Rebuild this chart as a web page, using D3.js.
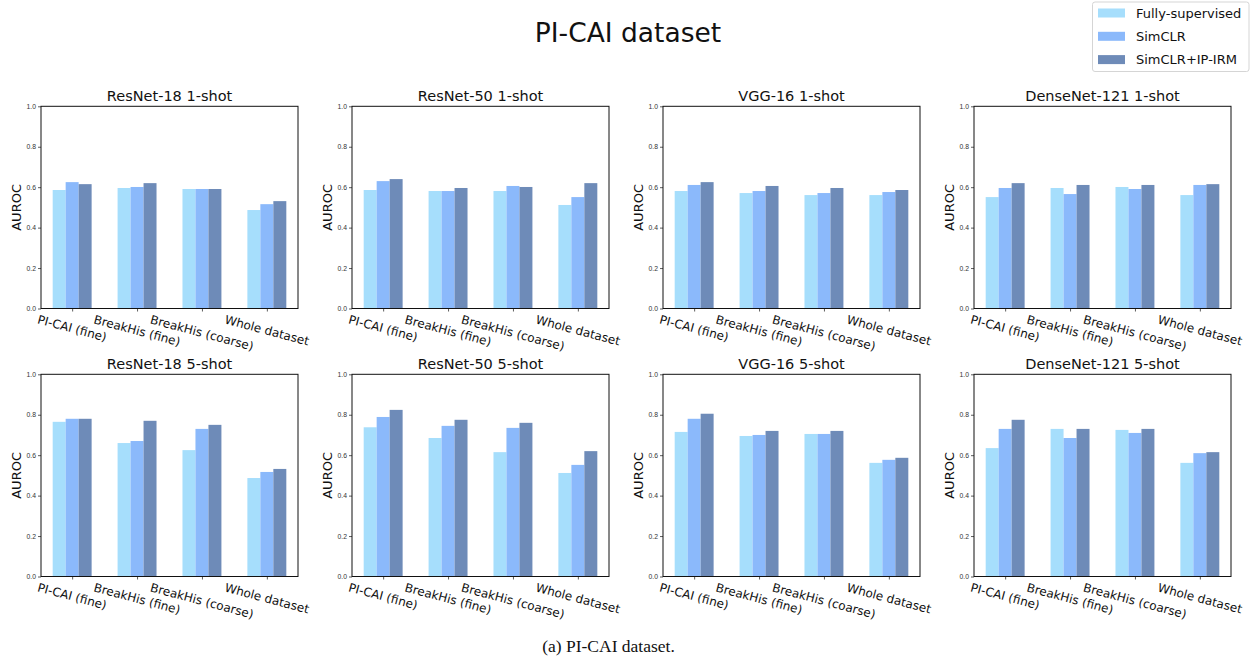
<!DOCTYPE html>
<html>
<head>
<meta charset="UTF-8">
<title>PI-CAI dataset</title>
<script src="https://d3js.org/d3.v7.min.js"></script>
<style>
    body { margin: 0; padding: 0; background: #fff; }
    svg { display: block; font-family: "DejaVu Sans", sans-serif; }
    .tick-y { font-size: 6.8px; fill: #333; }
    .tick-x { font-size: 12px; fill: #111; }
    .ptitle { font-size: 14.5px; fill: #111; text-anchor: middle; }
    .ylab { font-size: 13px; fill: #111; text-anchor: middle; }
</style>
</head>
<body>
<div id="chart"></div>
<script>
// categories, methods and titles
var categories = ["PI-CAI (fine)", "BreakHis (fine)", "BreakHis (coarse)", "Whole dataset"];
var methods = ["Fully-supervised", "SimCLR", "SimCLR+IP-IRM"];
var colors = ["#a6defc", "#8bb9fb", "#6e8bb8"];
var yTicks = [0.0, 0.2, 0.4, 0.6, 0.8, 1.0];

// values: one row per category, [Fully-supervised, SimCLR, SimCLR+IP-IRM]
var resnet18_1shot = [[0.586, 0.625, 0.615], [0.596, 0.601, 0.620], [0.591, 0.591, 0.591], [0.487, 0.516, 0.531]];
var resnet50_1shot = [[0.586, 0.630, 0.640], [0.581, 0.581, 0.596], [0.581, 0.606, 0.601], [0.512, 0.551, 0.620]];
var vgg16_1shot = [[0.581, 0.611, 0.625], [0.571, 0.581, 0.606], [0.561, 0.571, 0.596], [0.561, 0.576, 0.586]];
var densenet121_1shot = [[0.551, 0.596, 0.620], [0.596, 0.566, 0.611], [0.601, 0.591, 0.611], [0.561, 0.611, 0.615]];
var resnet18_5shot = [[0.765, 0.780, 0.780], [0.660, 0.670, 0.770], [0.625, 0.730, 0.750], [0.487, 0.517, 0.532]];
var resnet50_5shot = [[0.738, 0.789, 0.824], [0.685, 0.745, 0.775], [0.615, 0.735, 0.760], [0.512, 0.552, 0.620]];
var vgg16_5shot = [[0.715, 0.780, 0.805], [0.695, 0.700, 0.720], [0.705, 0.705, 0.720], [0.562, 0.577, 0.587]];
var densenet121_5shot = [[0.635, 0.730, 0.775], [0.730, 0.685, 0.730], [0.725, 0.710, 0.730], [0.562, 0.610, 0.615]];

var panels = [
    {title: "ResNet-18 1-shot", data: resnet18_1shot},
    {title: "ResNet-50 1-shot", data: resnet50_1shot},
    {title: "VGG-16 1-shot", data: vgg16_1shot},
    {title: "DenseNet-121 1-shot", data: densenet121_1shot},
    {title: "ResNet-18 5-shot", data: resnet18_5shot},
    {title: "ResNet-50 5-shot", data: resnet50_5shot},
    {title: "VGG-16 5-shot", data: vgg16_5shot},
    {title: "DenseNet-121 5-shot", data: densenet121_5shot}
];

var W = 1255, H = 664;
var svg = d3.select("#chart").append("svg")
    .attr("width", W)
    .attr("height", H);

var lefts = [41, 352, 663, 974],
    tops = [106.3, 374.3],
    pw = 257,
    ph = 202.2,
    barW = 0.2;

var x = d3.scaleLinear().domain([-0.48, 3.48]).range([0, pw]);
var y = d3.scaleLinear().domain([0, 1]).range([ph, 0]);

panels.forEach(function(p, k) {
    var g = svg.append("g")
        .attr("transform", "translate(" + lefts[k % 4] + "," + tops[Math.floor(k / 4)] + ")");

    // bars
    p.data.forEach(function(row, i) {
        g.selectAll(null)
            .data(row)
            .enter().append("rect")
            .attr("x", function(d, j) { return x(i + (j - 1) * barW - barW / 2); })
            .attr("width", x(barW) - x(0))
            .attr("y", function(d) { return y(d); })
            .attr("height", function(d) { return ph - y(d); })
            .attr("fill", function(d, j) { return colors[j]; });
    });

    // y axis
    var yAxis = g.append("g")
        .call(d3.axisLeft(y).tickValues(yTicks).tickFormat(d3.format(".1f")).tickSizeOuter(0).tickSize(3).tickPadding(2));
    yAxis.select(".domain").remove();
    yAxis.selectAll("text").attr("class", "tick-y");
    yAxis.selectAll("line").attr("stroke", "#333").attr("stroke-width", 0.8);

    // x axis ticks
    var xAxis = g.append("g")
        .attr("transform", "translate(0," + ph + ")")
        .call(d3.axisBottom(x).tickValues([0, 1, 2, 3]).tickFormat("").tickSize(3).tickSizeOuter(0));
    xAxis.select(".domain").remove();
    xAxis.selectAll("line").attr("stroke", "#333").attr("stroke-width", 0.8);

    // rotated category labels, centered under the tick (matplotlib style)
    categories.forEach(function(c, i) {
        var t = g.append("text")
            .attr("class", "tick-x")
            .attr("text-anchor", "middle")
            .attr("dominant-baseline", "central")
            .text(c);
        var w = t.node().getComputedTextLength();
        var a = 15 * Math.PI / 180;
        var bh = w * Math.sin(a) + 12 * Math.cos(a);
        var cx = x(i), cy = ph + 5 + bh / 2;
        t.attr("x", cx).attr("y", cy)
            .attr("transform", "rotate(15," + cx + "," + cy + ")");
    });

    // frame
    g.append("rect")
        .attr("width", pw)
        .attr("height", ph)
        .attr("fill", "none")
        .attr("stroke", "#111")
        .attr("stroke-width", 1);

    // panel title
    g.append("text")
        .attr("class", "ptitle")
        .attr("x", pw / 2)
        .attr("y", -5)
        .text(p.title);

    // y label
    g.append("text")
        .attr("class", "ylab")
        .attr("transform", "translate(-20," + (ph / 2) + ") rotate(-90)")
        .text("AUROC");
});

// main title
svg.append("text")
    .attr("x", 628)
    .attr("y", 41.5)
    .attr("text-anchor", "middle")
    .style("font-size", "26.5px")
    .style("fill", "#111")
    .text("PI-CAI dataset");

// legend
var leg = svg.append("g").attr("transform", "translate(1092.5,2)");
leg.append("rect")
    .attr("width", 156.5)
    .attr("height", 69.5)
    .attr("rx", 2.5)
    .attr("fill", "#fff")
    .attr("stroke", "#d5d5d5")
    .attr("stroke-width", 1);
methods.forEach(function(m, i) {
    leg.append("rect")
        .attr("x", 5.5)
        .attr("y", 6.5 + i * 23.3)
        .attr("width", 27)
        .attr("height", 9)
        .attr("fill", colors[i]);
    leg.append("text")
        .attr("x", 43.5)
        .attr("y", 15.5 + i * 23.3)
        .style("font-size", "13px")
        .style("fill", "#111")
        .text(m);
});

// caption
svg.append("text")
    .attr("x", 608.5)
    .attr("y", 651.5)
    .attr("text-anchor", "middle")
    .style("font-family", "'Liberation Serif', 'Times New Roman', serif")
    .style("font-size", "17.5px")
    .style("fill", "#111")
    .text("(a) PI-CAI dataset.");
</script>
</body>
</html>
